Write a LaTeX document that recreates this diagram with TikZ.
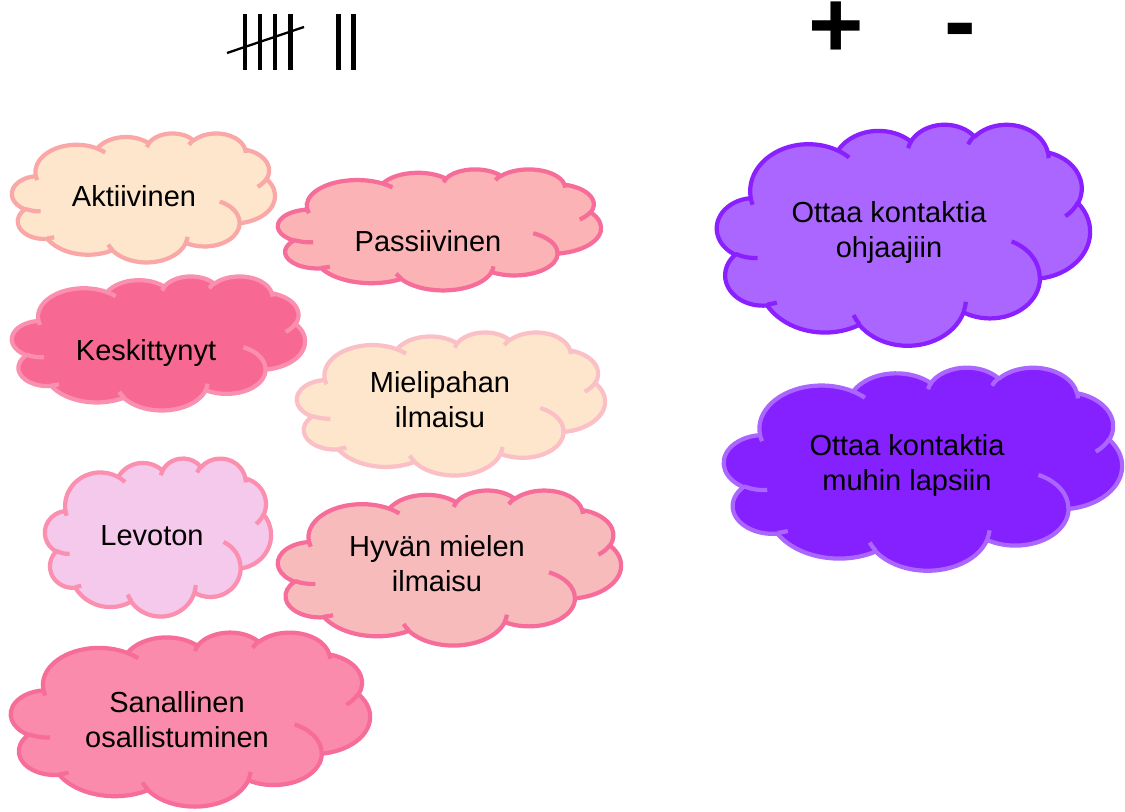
\documentclass[tikz,border=0pt]{standalone}
\usepackage{fontspec}
\setmainfont{Liberation Sans}
\usepackage{tikz}

\definecolor{peach}{HTML}{FDE6CB}
\definecolor{salmonline}{HTML}{F9A7A7}
\definecolor{paleline}{HTML}{FBBFC6}
\definecolor{rosefill}{HTML}{FBB3B5}
\definecolor{roseline}{HTML}{F76D9A}
\definecolor{hotfill}{HTML}{F76892}
\definecolor{hotline}{HTML}{FB8FB0}
\definecolor{lilacfill}{HTML}{F5C9EB}
\definecolor{blushfill}{HTML}{F8BBBC}
\definecolor{candyfill}{HTML}{FB8BAC}
\definecolor{violetfill}{HTML}{AB66FF}
\definecolor{violetline}{HTML}{8A1FFF}
\definecolor{deepviolet}{HTML}{8520FF}

% cloud outline in a 43.2 x 43.2 box, fitted to (#1,#2)-(#3,#4)
\newcommand{\pcloud}[6]{%
\begin{scope}[shift={(#1,#2)},xscale={(#3-#1)/43.2},yscale={(#4-#2)/43.2}]
\filldraw[cloud line,fill=#5,draw=#6] (3.9,14.37)
  \foreach \rx/\ry/\st/\sw [evaluate={\st as \ta using atan2(\rx*sin(\st),\ry*cos(\st))},
    evaluate={\sw as \td using mod(atan2(\rx*sin(\st+\sw),\ry*cos(\st+\sw))-atan2(\rx*sin(\st),\ry*cos(\st))+720,360)}] in
  {6.753/9.19/-190.4875/123.7805, 5.333/7.267/-144.1024/89.9452,
   4.365/5.945/-145.8079/99.723, 4.857/6.595/-130.9861/117.2417,
   5.333/7.273/-78.7089/109.0269, 6.775/9.22/-46.2673/130.269,
   5.785/7.867/0.625/114.0333, 6.752/9.215/22.4516/115.1726,
   7.72/10.543/66.2426/75.711, 4.36/5.918/-274.9421/146.7356,
   4.345/5.945/-246.8285/152.5189}
  { arc[x radius=\rx,y radius=\ry,start angle=\ta,delta angle=\td] } -- cycle;
\draw[cloud line,draw=#6]
  \foreach \px/\py/\rx/\ry/\st/\sw [evaluate={\st as \ta using atan2(\rx*sin(\st),\ry*cos(\st))},
    evaluate={\sw as \td using mod(atan2(\rx*sin(\st+\sw),\ry*cos(\st+\sw))-atan2(\rx*sin(\st),\ry*cos(\st))+720,360)}] in
  {4.693/26.177/4.345/5.945/86.742/26.4295, 6.928/34.899/4.36/5.918/73.6105/11.4475,
   16.478/39.09/6.752/9.215/137.6242/14.0811, 28.827/34.751/6.752/9.215/6.4533/15.9984,
   34.129/22.954/5.785/7.867/-70.2924/70.9174, 41.798/15.354/5.333/7.273/30.318/27.7515,
   38.324/5.426/4.857/6.595/-13.7443/14.8589, 29.078/3.952/4.857/6.595/-149.1815/18.1954,
   22.141/4.72/4.365/5.945/-163.4943/17.6864, 14/5.192/6.753/9.19/-66.707/12.3194,
   4.127/15.789/6.753/9.19/157.6544/11.8582}
  { (\px,\py) arc[x radius=\rx,y radius=\ry,start angle=\ta,delta angle=\td] };
\end{scope}}

\begin{document}
\begin{tikzpicture}[x=0.02cm,y=-0.02cm,
  cloud line/.style={line width=2.4pt,line join=round},
  lbl/.style={font=\fontsize{16.5}{19.5}\selectfont,align=center,anchor=base,inner sep=0pt},
  sign/.style={font=\fontsize{54}{60}\selectfont\bfseries,anchor=base,inner sep=0pt},
  tally/.style={line width=2.3pt}]
\useasboundingbox (0,0) rectangle (1125,811);

\foreach \x in {245,260,275,290.5,338.5,353.5}
  \draw[tally] (\x,14) -- (\x,70);
\draw[line width=1.3pt] (227,53) -- (304,27);

\node[sign] (plus) at (836,58) {+};
\node[sign] (minus) at (960,54) {-};

\pcloud{12}{133}{275}{262}{peach}{salmonline}
\pcloud{278}{169}{601}{290}{rosefill}{roseline}
\pcloud{12}{276}{305}{410}{hotfill}{hotline}
\pcloud{297}{332}{605}{475}{peach}{paleline}
\pcloud{45}{458}{271}{616}{lilacfill}{hotline}
\pcloud{278}{490}{621}{645}{blushfill}{roseline}
\pcloud{11}{632}{370}{806}{candyfill}{roseline}
\pcloud{717}{124}{1090}{345}{violetfill}{violetline}
\pcloud{724}{367}{1122}{570}{deepviolet}{violetfill}

\node[lbl] (akt) at (134,206) {Aktiivinen};
\node[lbl] (pass) at (428,251) {Passiivinen};
\node[lbl] (kesk) at (146,360) {Keskittynyt};
\node[lbl] (miel) at (440,427) {Mielipahan\\ilmaisu};
\node[lbl] (levo) at (152,545) {Levoton};
\node[lbl] (hyva) at (437,591) {Hyvän mielen\\ilmaisu};
\node[lbl] (sana) at (177,747) {Sanallinen\\osallistuminen};
\node[lbl] (ohj) at (889,257) {Ottaa kontaktia\\ohjaajiin};
\node[lbl] (laps) at (907,490) {Ottaa kontaktia\\muhin lapsiin};
\end{tikzpicture}
\end{document}
